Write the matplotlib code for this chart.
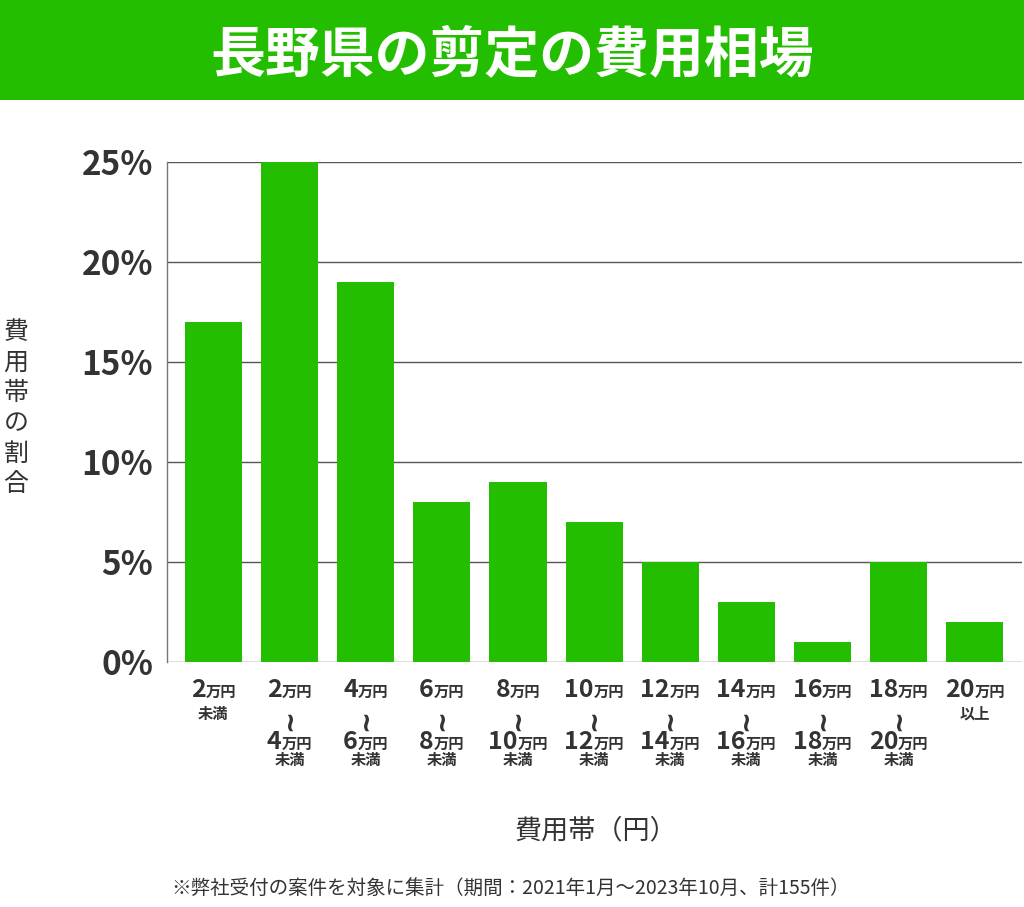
import matplotlib
matplotlib.use("Agg")
import matplotlib.pyplot as plt
from matplotlib.patches import Rectangle
from matplotlib.transforms import blended_transform_factory, offset_copy

plt.rcParams['font.family'] = ['Noto Sans CJK JP', 'DejaVu Sans']

title = "長野県の剪定の費用相場"
ylabel = "費用帯の割合"
xlabel = "費用帯（円）"
footnote = "※弊社受付の案件を対象に集計（期間：2021年1月～2023年10月、計155件）"

# (lower bound, upper bound) in 万円; None = open
lower = [None, "2", "4", "6", "8", "10", "12", "14", "16", "18", "20"]
upper = ["2", "4", "6", "8", "10", "12", "14", "16", "18", "20", None]
values = [17, 25, 19, 8, 9, 7, 5, 3, 1, 5, 2]
yticks = [0, 5, 10, 15, 20, 25]
ytick_labels = ["0%", "5%", "10%", "15%", "20%", "25%"]

GREEN = '#23be00'
TXT = '#333333'

fig = plt.figure(figsize=(10.24, 9.07), dpi=100)
fig.patches.append(Rectangle((0, 1 - 100/907), 1, 100/907, transform=fig.transFigure,
                             facecolor=GREEN, edgecolor='none', zorder=0))
fig.text(0.5, 1 - 55/907, title, color='white', fontsize=39.5, fontweight='bold',
         ha='center', va='center')

ax = fig.add_axes([167/1024, 1 - 662/907, (1022-167)/1024, 500/907])
x = list(range(len(values)))
ax.bar(x, values, width=0.75, color=GREEN, zorder=3)
ax.set_xlim(-0.61, 10.62)
ax.set_ylim(0, 25)
ax.set_yticks(yticks)
ax.set_yticklabels(ytick_labels, fontsize=24, fontweight='bold', color=TXT)
ax.tick_params(axis='y', length=0, pad=10)
ax.set_xticks([])
for y in yticks:
    ax.axhline(y, color='#555555', lw=1.0, zorder=1)
for s in ['top', 'right', 'bottom']:
    ax.spines[s].set_visible(False)
ax.spines['left'].set_color('#777777')
ax.spines['left'].set_linewidth(1.0)

big = dict(fontsize=18, fontweight='bold', color=TXT)
small = dict(fontsize=11, fontweight='bold', color=TXT)

trans = blended_transform_factory(ax.transData, ax.transAxes)
renderer = fig.canvas.get_renderer()

def amount(i, num, baseline_px):
    t1 = ax.text(i, 0, num, transform=trans, ha='left', va='baseline', **big)
    t2 = ax.text(i, 0, "万円", transform=trans, ha='left', va='baseline', **small)
    w1 = t1.get_window_extent(renderer).width
    w2 = t2.get_window_extent(renderer).width
    start = -(w1 + w2) / 2
    t1.set_transform(offset_copy(trans, fig=fig, x=start, y=-baseline_px, units='dots'))
    t2.set_transform(offset_copy(trans, fig=fig, x=start + w1, y=-baseline_px, units='dots'))

def word(i, s, baseline_px, **kw):
    props = dict(small)
    props.update(kw)
    va = props.pop('va', 'baseline')
    ax.text(i, 0, s, ha='center', va=va,
            transform=offset_copy(trans, fig=fig, x=0, y=-baseline_px, units='dots'), **props)

for i, (lo, up) in enumerate(zip(lower, upper)):
    if lo is None:
        amount(i, up, 35)
        word(i, "未満", 57)
    elif up is None:
        amount(i, lo, 35)
        word(i, "以上", 57)
    else:
        amount(i, lo, 35)
        word(i, "~", 58, fontsize=19, family='DejaVu Sans', fontweight='bold',
             va='center', rotation=90)
        amount(i, up, 87)
        word(i, "未満", 103)

fig.text(16/1024, 1 - 408/907, "\n".join(ylabel), fontsize=18, color=TXT,
         ha='center', va='center', linespacing=1.22)
fig.text(596/1024, 1 - 831/907, xlabel, fontsize=19.5, color=TXT, ha='center', va='center')
fig.text(511/1024, 1 - 888/907, footnote, fontsize=14, color=TXT, ha='center', va='center')

fig.savefig("out.png", dpi=100)
